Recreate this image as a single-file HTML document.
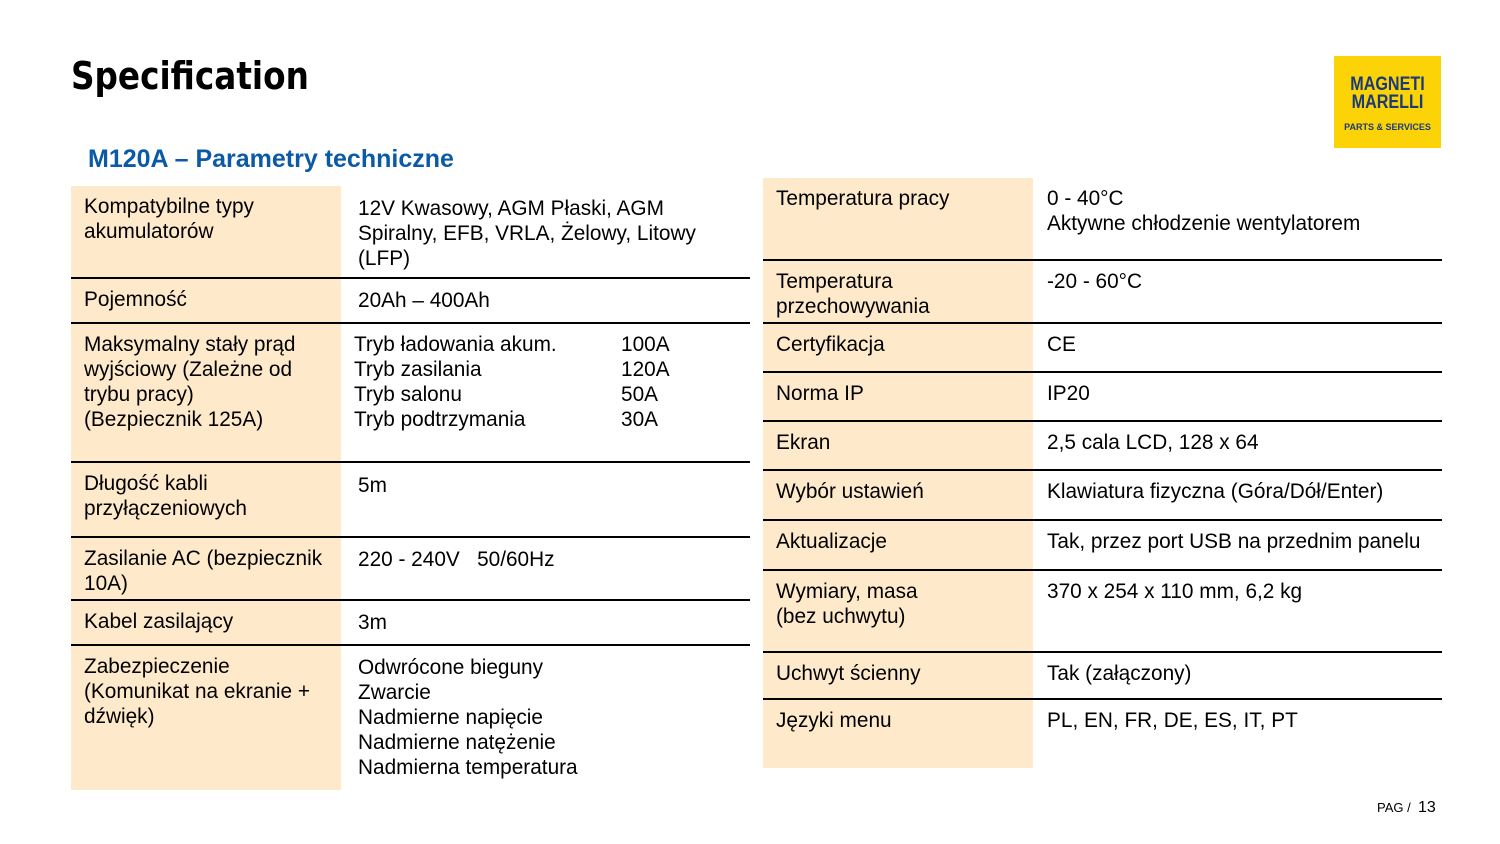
<!DOCTYPE html>
<html><head><meta charset="utf-8"><style>
body{margin:0;width:1500px;height:844px;background:#fff;position:relative;overflow:hidden;font-family:"Liberation Sans",sans-serif;color:#000}
.t{position:absolute;left:71px;top:54px;font-size:38px;font-weight:bold;font-family:"DejaVu Sans","Liberation Sans",sans-serif;transform:scaleX(0.86);transform-origin:left top}
.sub{position:absolute;left:88px;top:145px;font-size:25px;font-weight:bold;color:#0b5aa5}
.r{position:absolute;font-size:20.8px;line-height:25px}
.r .l{position:absolute;top:0;bottom:0;left:0;background:#feeacb;padding:8px 13px;box-sizing:border-box}
.r .v{position:absolute;top:0;padding-top:8px;white-space:nowrap}
.line{position:absolute;height:2px;background:#000}
.logo{position:absolute;left:1334px;top:56px;width:107px;height:92px;background:#fcd307;text-align:center}
.pag{position:absolute;left:1377px;top:799px;font-size:13px}
</style></head><body>
<div class="t">Specification</div>
<div class="sub">M120A – Parametry techniczne</div>
<div class="logo"><div style="margin-top:20px;font:bold 19px/18px 'Liberation Sans Narrow','Liberation Sans',sans-serif;color:#1b3a78;transform:scaleX(0.85)">MAGNETI<br>MARELLI</div><div style="font:bold 9px 'Liberation Sans',sans-serif;color:#1b3a78;margin-top:10px">PARTS &amp; SERVICES</div></div>

<div class="r" style="left:71px;top:186px;width:679px;height:92px"><div class="l" style="width:270px">Kompatybilne typy<br>akumulatorów</div><div class="v" style="left:287px;padding-top:10px">12V Kwasowy, AGM Płaski, AGM<br>Spiralny, EFB, VRLA, Żelowy, Litowy<br>(LFP)</div></div>
<div class="line" style="left:71px;top:277px;width:679px"></div>
<div class="r" style="left:71px;top:279px;width:679px;height:44px"><div class="l" style="width:270px">Pojemność</div><div class="v" style="left:287px;padding-top:9px">20Ah – 400Ah</div></div>
<div class="line" style="left:71px;top:322px;width:679px"></div>
<div class="r" style="left:71px;top:324px;width:679px;height:138px"><div class="l" style="width:270px">Maksymalny stały prąd<br>wyjściowy (Zależne od<br>trybu pracy)<br>(Bezpiecznik 125A)</div><div class="v" style="left:283px">Tryb ładowania akum.<br>Tryb zasilania<br>Tryb salonu<br>Tryb podtrzymania</div><div class="v" style="left:550px">100A<br>120A<br>50A<br>30A</div></div>
<div class="line" style="left:71px;top:461px;width:679px"></div>
<div class="r" style="left:71px;top:463px;width:679px;height:74px"><div class="l" style="width:270px">Długość kabli<br>przyłączeniowych</div><div class="v" style="left:287px;padding-top:10px">5m</div></div>
<div class="line" style="left:71px;top:536px;width:679px"></div>
<div class="r" style="left:71px;top:538px;width:679px;height:62px"><div class="l" style="width:270px">Zasilanie AC (bezpiecznik<br>10A)</div><div class="v" style="left:287px;padding-top:9px">220 - 240V &nbsp; 50/60Hz</div></div>
<div class="line" style="left:71px;top:599px;width:679px"></div>
<div class="r" style="left:71px;top:601px;width:679px;height:44px"><div class="l" style="width:270px">Kabel zasilający</div><div class="v" style="left:287px;padding-top:9px">3m</div></div>
<div class="line" style="left:71px;top:644px;width:679px"></div>
<div class="r" style="left:71px;top:646px;width:679px;height:144px"><div class="l" style="width:270px">Zabezpieczenie<br>(Komunikat na ekranie +<br>dźwięk)</div><div class="v" style="left:287px;padding-top:9px">Odwrócone bieguny<br>Zwarcie<br>Nadmierne napięcie<br>Nadmierne natężenie<br>Nadmierna temperatura</div></div>

<div class="r" style="left:763px;top:178px;width:679px;height:82px"><div class="l" style="width:270px">Temperatura pracy</div><div class="v" style="left:284px">0 - 40°C<br>Aktywne chłodzenie wentylatorem</div></div>
<div class="line" style="left:763px;top:259px;width:679px"></div>
<div class="r" style="left:763px;top:261px;width:679px;height:62px"><div class="l" style="width:270px">Temperatura<br>przechowywania</div><div class="v" style="left:284px">-20 - 60°C</div></div>
<div class="line" style="left:763px;top:322px;width:679px"></div>
<div class="r" style="left:763px;top:324px;width:679px;height:48px"><div class="l" style="width:270px">Certyfikacja</div><div class="v" style="left:284px">CE</div></div>
<div class="line" style="left:763px;top:371px;width:679px"></div>
<div class="r" style="left:763px;top:373px;width:679px;height:48px"><div class="l" style="width:270px">Norma IP</div><div class="v" style="left:284px">IP20</div></div>
<div class="line" style="left:763px;top:420px;width:679px"></div>
<div class="r" style="left:763px;top:422px;width:679px;height:48px"><div class="l" style="width:270px">Ekran</div><div class="v" style="left:284px">2,5 cala LCD, 128 x 64</div></div>
<div class="line" style="left:763px;top:469px;width:679px"></div>
<div class="r" style="left:763px;top:471px;width:679px;height:49px"><div class="l" style="width:270px">Wybór ustawień</div><div class="v" style="left:284px">Klawiatura fizyczna (Góra/Dół/Enter)</div></div>
<div class="line" style="left:763px;top:519px;width:679px"></div>
<div class="r" style="left:763px;top:521px;width:679px;height:49px"><div class="l" style="width:270px">Aktualizacje</div><div class="v" style="left:284px">Tak, przez port USB na przednim panelu</div></div>
<div class="line" style="left:763px;top:569px;width:679px"></div>
<div class="r" style="left:763px;top:571px;width:679px;height:81px"><div class="l" style="width:270px">Wymiary, masa<br>(bez uchwytu)</div><div class="v" style="left:284px">370 x 254 x 110 mm, 6,2 kg</div></div>
<div class="line" style="left:763px;top:651px;width:679px"></div>
<div class="r" style="left:763px;top:653px;width:679px;height:46px"><div class="l" style="width:270px">Uchwyt ścienny</div><div class="v" style="left:284px">Tak (załączony)</div></div>
<div class="line" style="left:763px;top:698px;width:679px"></div>
<div class="r" style="left:763px;top:700px;width:679px;height:68px"><div class="l" style="width:270px">Języki menu</div><div class="v" style="left:284px">PL, EN, FR, DE, ES, IT, PT</div></div>

<div class="pag">PAG / &nbsp;<span style="font-size:16px">13</span></div>
</body></html>
